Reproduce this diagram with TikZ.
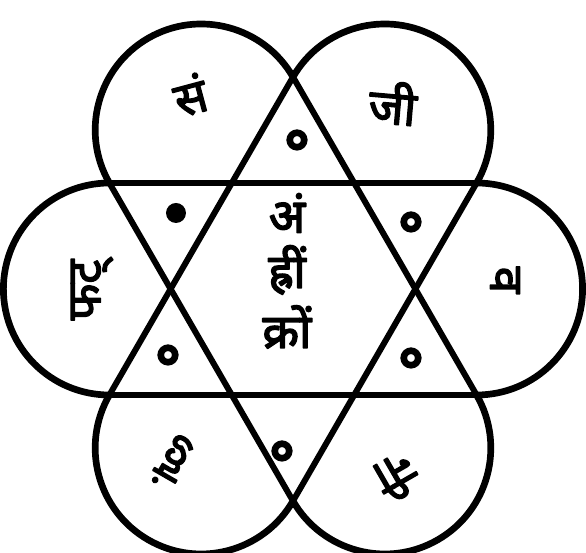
\documentclass[tikz,border=0pt]{standalone}
\usepackage{fontspec}
\newfontfamily\deva[Script=Devanagari, FakeBold=3]{Noto Sans}
\tikzset{
  mantra/.style={font=\deva\fontsize{27}{27}\selectfont, inner sep=0pt},
  ring/.style={circle, draw, line width=3.8pt, inner sep=0pt, minimum size=2.9mm},
  bindu/.style={circle, fill, inner sep=0pt, minimum size=4mm},
  lobe/.style={line width=3.8pt},
}
\begin{document}
\begin{tikzpicture}[x=0.02cm, y=0.02cm, line width=3.4pt, line join=round]
  \useasboundingbox (-293,-264) rectangle (293,289);

  % Punti della stella
  \coordinate (p1) at (90:212);
  \coordinate (p2) at (150:212);
  \coordinate (p3) at (210:212);
  \coordinate (p4) at (270:212);
  \coordinate (p5) at (330:212);
  \coordinate (p6) at (30:212);
  \draw (p1) -- (p3) -- (p5) -- cycle;
  \draw (p2) -- (p4) -- (p6) -- cycle;

  % Petali
  \draw[lobe] (p1) arc[start angle=30, end angle=210, radius=106];
  \draw[lobe] (p2) arc[start angle=90, end angle=270, radius=106];
  \draw[lobe] (p3) arc[start angle=150, end angle=330, radius=106];
  \draw[lobe] (p4) arc[start angle=210, end angle=390, radius=106];
  \draw[lobe] (p5) arc[start angle=270, end angle=450, radius=106];
  \draw[lobe] (p6) arc[start angle=-30, end angle=150, radius=106];

  % Cerchietti
  \node[ring] (r1) at (4,149) {};
  \node[bindu] (r2) at (-117,76) {};
  \node[ring] (r3) at (-125,-66) {};
  \node[ring] (r4) at (-11,-162) {};
  \node[ring] (r5) at (118,-69) {};
  \node[ring] (r6) at (118,67) {};

  % Lettere nei petali
  \node[mantra, rotate=15] (m1) at (-103,194) {सं};
  \node[mantra, rotate=-5] (m2) at (100,186) {जी};
  \node[mantra, rotate=-90] (m3) at (212,9) {व};
  \node[mantra, rotate=-150] (m4) at (104,-188) {नी};
  \node[mantra, rotate=150] (m5) at (-120,-173) {हुं};
  \node[mantra, rotate=90] (m6) at (-201,-1) {फट्};

  % Centro
  \node[mantra] (c1) at (-6,76) {अं};
  \node[mantra] (c2) at (-6,19) {ह्रीं};
  \node[mantra] (c3) at (-6,-38) {क्रों};
\end{tikzpicture}
\end{document}
